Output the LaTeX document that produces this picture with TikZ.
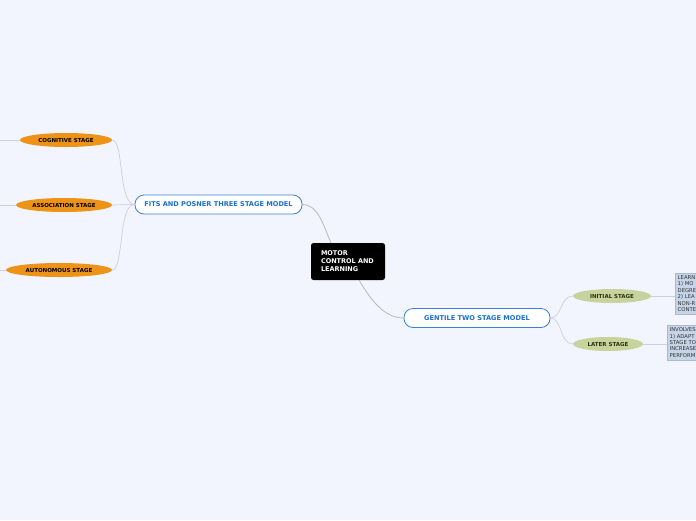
\documentclass[tikz,border=0pt]{standalone}
\usepackage{fontspec}
\setmainfont{DejaVu Sans}
\usetikzlibrary{shapes.geometric}
\definecolor{bg}{HTML}{F2F5FE}
\definecolor{conn}{HTML}{B4B8C4}
\definecolor{connl}{HTML}{CCD0DA}
\definecolor{bluetxt}{HTML}{1B6FCF}
\definecolor{blueline}{HTML}{3A80D6}
\definecolor{orangef}{HTML}{EC9318}
\definecolor{greenf}{HTML}{C8D29C}
\definecolor{greentxt}{HTML}{2A3510}
\definecolor{boxf}{HTML}{C6D4E8}
\definecolor{boxl}{HTML}{AABAD2}
\tikzset{
  x=1pt,y=-1pt,
  central/.style={fill=black,rounded corners=2.5pt,minimum width=74pt,minimum height=37pt,text=white,font=\fontsize{6.5}{8}\selectfont\bfseries,align=left,text width=54pt,inner sep=0pt},
  mainbox/.style={draw=blueline,line width=0.8pt,fill=white,rounded corners=9pt,minimum height=19pt,text=bluetxt,font=\fontsize{6.6}{7}\selectfont\bfseries,inner sep=0pt},
  orangeell/.style={ellipse,fill=orangef,minimum height=14pt,inner sep=0pt,font=\fontsize{5.5}{6}\selectfont\bfseries,text=black},
  greenell/.style={ellipse,fill=greenf,minimum height=14pt,inner sep=0pt,font=\fontsize{5.5}{6}\selectfont\bfseries,text=greentxt},
  notebox/.style={draw=boxl,fill=boxf,anchor=north west,align=left,inner sep=2.5pt,font=\fontsize{5.3}{6.4}\selectfont,text=black!80},
  link/.style={draw=conn,line width=0.8pt},
  sublink/.style={draw=connl,line width=0.7pt}
}
\begin{document}
\begin{tikzpicture}
\fill[bg] (0,0) rectangle (696,520);
\useasboundingbox (0,0) rectangle (696,520);
\begin{scope}
\clip (0,0) rectangle (696,520);
\node[central] (c) at (348,261.5) {MOTOR\\CONTROL AND\\LEARNING};
\node[mainbox,minimum width=167pt] (fits) at (218.5,204.5) {FITS AND POSNER THREE STAGE MODEL};
\node[mainbox,minimum width=146pt] (gen) at (477,318) {GENTILE TWO STAGE MODEL};
\node[orangeell,minimum width=92pt] (cog) at (66,140) {COGNITIVE STAGE};
\node[orangeell,minimum width=96pt] (ass) at (64,205) {ASSOCIATION STAGE};
\node[orangeell,minimum width=106pt] (aut) at (59,270) {AUTONOMOUS STAGE};
\node[greenell,minimum width=78pt] (ini) at (612,296) {INITIAL STAGE};
\node[greenell,minimum width=70pt] (lat) at (608,344) {LATER STAGE};
\node[notebox] (n1) at (675,273) {LEARN\\1) MO\\DEGRE\\2) LEA\\NON-R\\CONTE};
\node[notebox] (n2) at (667,325) {INVOLVES\\1) ADAPT\\STAGE TO\\INCREASE\\PERFORM};
\coordinate (e1) at (0,140);
\coordinate (e2) at (0,205);
\coordinate (e3) at (0,270);
\draw[link] (331,243) .. controls (322,222) and (318,205) .. (fits.east);
\draw[link] (359,280) .. controls (372,302) and (385,318) .. (gen.west);
\draw[sublink] (fits.west) .. controls (118,204) and (124,140) .. (cog.east);
\draw[sublink] (fits.west) -- (ass.east);
\draw[sublink] (fits.west) .. controls (118,204) and (124,270) .. (aut.east);
\draw[sublink] (gen.east) .. controls (562,318) and (560,296) .. (ini.west);
\draw[sublink] (gen.east) .. controls (562,318) and (560,344) .. (lat.west);
\draw[sublink] (ini.east) -- (n1.west |- ini.east);
\draw[sublink] (lat.east) -- (n2.west |- lat.east);
\draw[sublink] (cog.west) -- (e1);
\draw[sublink] (ass.west) -- (e2);
\draw[sublink] (aut.west) -- (e3);
\end{scope}
\end{tikzpicture}
\end{document}
